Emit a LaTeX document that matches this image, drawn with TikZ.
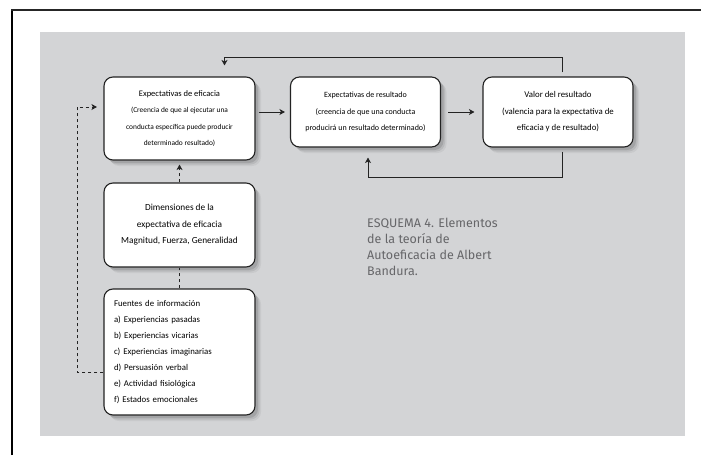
\documentclass[tikz,border=0pt]{standalone}
\usepackage{fontspec}
\setmainfont{Carlito}
\newfontfamily\capfont{Fira Sans}
\usetikzlibrary{arrows.meta,shadows,calc}
\definecolor{panel}{RGB}{211,212,214}
\definecolor{ink}{RGB}{35,35,35}
\definecolor{captiongray}{RGB}{102,102,105}
\begin{document}
\begin{tikzpicture}[x=1pt,y=-1pt,
  box/.style={draw=ink, line width=1.1pt, fill=white, rounded corners=9pt,
    inner sep=4pt, align=center,
    general shadow={shadow xshift=6pt, shadow yshift=-6pt, fill=black, opacity=0.05},
    general shadow={shadow xshift=4.5pt, shadow yshift=-4.5pt, fill=black, opacity=0.08},
    general shadow={shadow xshift=3pt, shadow yshift=-3pt, fill=black, opacity=0.11}},
  arr/.style={draw=ink, line width=0.9pt, -{Stealth[length=5.5pt,width=6pt,inset=1.5pt]}},
  dashln/.style={draw=ink, line width=0.8pt, dash pattern=on 3.5pt off 2.5pt},
  dasharr/.style={dashln, -{Stealth[length=5.5pt,width=6pt,inset=1.5pt]}},
  caption/.style={anchor=north west, inner sep=0pt, align=left, text=captiongray,
    font=\capfont\fontsize{12.5}{16}\selectfont}
]
\useasboundingbox (0,0) rectangle (701,455);

% page edges and grey panel
\fill[panel] (40,32) rectangle (685,436);
\draw[line width=2pt, black] (12,455) -- (12,10);
\draw[line width=1.3pt, black!85] (11,10) -- (701,10);

% boxes
\node[box, minimum width=151pt, minimum height=83pt,
      font=\fontsize{7.4}{16.5}\selectfont] (eff) at (179.5,118.5)
  {{\fontsize{8.5}{16.5}\selectfont Expectativas de eficacia}\\
   (Creencia de que al ejecutar una\\
   conducta específica puede producir\\
   determinado resultado)};

\node[box, minimum width=150pt, minimum height=70pt,
      font=\fontsize{8}{16.5}\selectfont] (res) at (365.5,112)
  {Expectativas de resultado\\
   (creencia de que una conducta\\
   producirá un resultado determinado)};

\node[box, minimum width=150pt, minimum height=70pt,
      font=\fontsize{8.8}{16.5}\selectfont] (val) at (558,112)
  {Valor del resultado\\
   (valencia para la expectativa de\\
   eficacia y de resultado)};

\node[box, minimum width=151pt, minimum height=84pt,
      font=\fontsize{9.3}{16.5}\selectfont] (dim) at (179.5,225)
  {Dimensiones de la\\
   expectativa de eficacia\\
   Magnitud, Fuerza, Generalidad};

\node[box, minimum width=151pt, minimum height=126pt, inner sep=10pt,
      text width=131pt, align=left,
      font=\fontsize{8.8}{16}\selectfont] (fue) at (179.5,352)
  {Fuentes de información\\
   a) Experiencias pasadas\\
   b) Experiencias vicarias\\
   c) Experiencias imaginarias\\
   d) Persuasión verbal\\
   e) Actividad fisiológica\\
   f) Estados emocionales};

% caption
\node[caption] (cap) at (367,218)
  {ESQUEMA 4. Elementos\\
   de la teoría de\\
   Autoeficacia de Albert\\
   Bandura.};

% loop corner points
\coordinate (topR) at (562,57);
\coordinate (topL) at (224.5,57);
\coordinate (botR) at (562,177);
\coordinate (botL) at (368,177);
\coordinate (dl) at (77,372);
\coordinate (ul) at (77,107);

% solid connectors
\draw[arr, shorten <=3pt, shorten >=5pt] (eff.east |- res.west) -- (res.west);
\draw[arr, shorten <=7pt, shorten >=8pt] (res.east) -- (val.west);
\draw[arr, shorten <=4pt, shorten >=11pt]
  (val.north -| topR) -- (topR) -- (topL) -- (topL |- eff.north);
\draw[arr, shorten <=4pt, shorten >=10pt]
  (val.south -| botR) -- (botR) -- (botL) -- (botL |- res.south);

% dashed connectors
\draw[dasharr, shorten >=4pt] (dim.north) -- (eff.south);
\draw[dashln] (fue.north) -- (dim.south);
\draw[dasharr, shorten >=6.5pt] (fue.west |- dl) -- (dl) -- (ul) -- (ul -| eff.west);
\end{tikzpicture}
\end{document}
